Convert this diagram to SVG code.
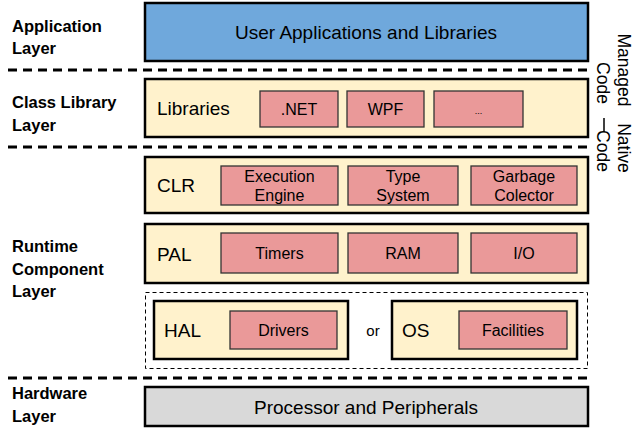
<svg xmlns="http://www.w3.org/2000/svg" width="633" height="431" viewBox="0 0 633 431">
<style>
text{font-family:"Liberation Sans",Arial,sans-serif;fill:#000}
.lbl{font-weight:bold;font-size:16.5px}
.main{stroke:#000;stroke-width:2.5}
.sub{fill:#ea9999;stroke:#333;stroke-width:1.3}
.big{font-size:19px;text-anchor:middle}
.hdr{font-size:19px}
.st{font-size:16px;text-anchor:middle}
.sep{stroke:#000;stroke-width:3;stroke-dasharray:9 6;fill:none}
.rot{font-size:17.5px;text-anchor:middle}
</style>
<rect width="633" height="431" fill="#fff"/>
<g id="layer-labels">
<text class="lbl" x="12" y="32">Application</text>
<text class="lbl" x="12" y="54">Layer</text>
<text class="lbl" x="12" y="108">Class Library</text>
<text class="lbl" x="12" y="131">Layer</text>
<text class="lbl" x="12" y="252">Runtime</text>
<text class="lbl" x="12" y="275">Component</text>
<text class="lbl" x="12" y="297">Layer</text>
<text class="lbl" x="12" y="399">Hardware</text>
<text class="lbl" x="12" y="422">Layer</text>
</g>
<g id="separators">
<line class="sep" x1="8" y1="70" x2="590" y2="70"/>
<line class="sep" x1="8" y1="147" x2="590" y2="147"/>
<line class="sep" x1="8" y1="378" x2="590" y2="378"/>
</g>
<g id="app">
<rect class="main" x="145" y="3" width="443" height="58" fill="#6fa8dc"/>
<text class="big" x="366" y="39">User Applications and Libraries</text>
</g>
<g id="libraries">
<rect class="main" x="145" y="79" width="443" height="58" fill="#fff2cc"/>
<text class="hdr" x="157" y="115">Libraries</text>
<rect class="sub" x="260" y="91" width="78" height="36"/>
<text class="st" x="299" y="115">.NET</text>
<rect class="sub" x="347" y="91" width="77" height="36"/>
<text class="st" x="385.5" y="115">WPF</text>
<rect class="sub" x="434" y="91" width="89" height="36"/>
<text class="st" x="478.5" y="114" style="font-size:9px">...</text>
</g>
<g id="clr">
<rect class="main" x="145" y="157" width="443" height="56" fill="#fff2cc"/>
<text class="hdr" x="157" y="192">CLR</text>
<rect class="sub" x="221" y="166" width="117" height="39"/>
<text class="st" x="279.5" y="182">Execution</text>
<text class="st" x="279.5" y="201">Engine</text>
<rect class="sub" x="348" y="166" width="110" height="39"/>
<text class="st" x="403" y="182">Type</text>
<text class="st" x="403" y="201">System</text>
<rect class="sub" x="471" y="166" width="106" height="39"/>
<text class="st" x="524" y="182">Garbage</text>
<text class="st" x="524" y="201">Colector</text>
</g>
<g id="pal">
<rect class="main" x="145" y="224" width="443" height="59" fill="#fff2cc"/>
<text class="hdr" x="157" y="261">PAL</text>
<rect class="sub" x="221" y="233" width="117" height="40"/>
<text class="st" x="279.5" y="259">Timers</text>
<rect class="sub" x="348" y="233" width="110" height="40"/>
<text class="st" x="403" y="259">RAM</text>
<rect class="sub" x="471" y="233" width="106" height="40"/>
<text class="st" x="524" y="259">I/O</text>
</g>
<g id="platform">
<rect x="145.5" y="292.5" width="442" height="76" fill="none" stroke="#000" stroke-width="1" stroke-dasharray="4 3"/>
<text x="373" y="336" style="font-size:15px;text-anchor:middle">or</text>
</g>
<g id="hal">
<rect class="main" x="154" y="301" width="194" height="58" fill="#fff2cc"/>
<text class="hdr" x="164" y="337">HAL</text>
<rect class="sub" x="230" y="311" width="107" height="38"/>
<text class="st" x="283.5" y="336">Drivers</text>
</g>
<g id="os">
<rect class="main" x="392" y="301" width="185" height="58" fill="#fff2cc"/>
<text class="hdr" x="402" y="337">OS</text>
<rect class="sub" x="459" y="311" width="108" height="38"/>
<text class="st" x="513" y="336">Facilities</text>
</g>
<g id="hardware">
<rect class="main" x="145" y="387" width="443" height="39" fill="#d9d9d9"/>
<text class="big" x="366" y="414">Processor and Peripherals</text>
</g>
<g id="code-labels">
<text class="rot" transform="translate(618,70) rotate(90)">Managed</text>
<text class="rot" transform="translate(597,83) rotate(90)">Code</text>
<line x1="604" y1="118" x2="604" y2="132" stroke="#000" stroke-width="1.5"/>
<text class="rot" transform="translate(618,148) rotate(90)">Native</text>
<text class="rot" transform="translate(597,151) rotate(90)">Code</text>
</g>
</svg>
